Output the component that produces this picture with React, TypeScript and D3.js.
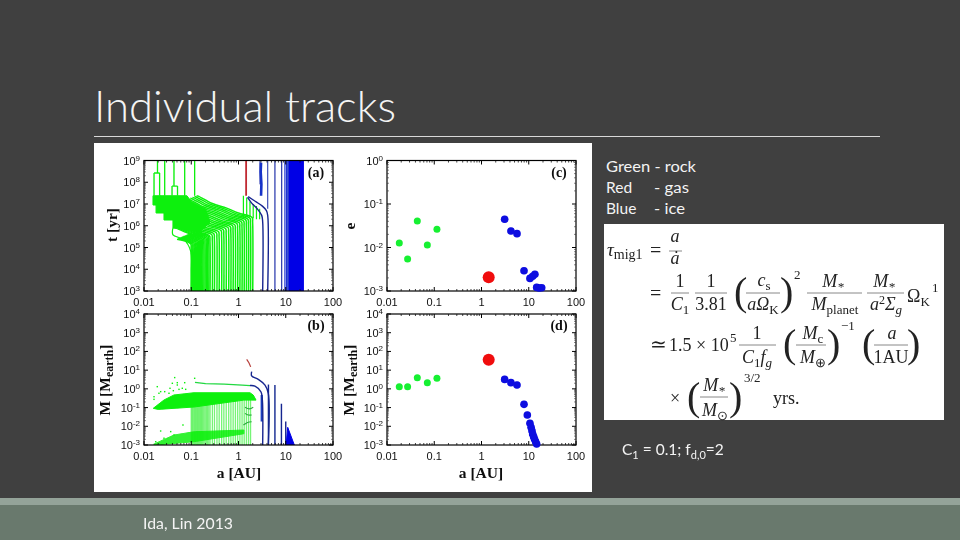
import React from "react";
import * as d3 from "d3";

// ---------- values ----------
const xTicks = [0.01, 0.1, 1, 10, 100];
const xTickLabels = ["0.01", "0.1", "1", "10", "100"];
const timeExponents = [3, 4, 5, 6, 7, 8, 9];
const massExponents = [-3, -2, -1, 0, 1, 2, 3, 4];
const eccExponents = [-3, -2, -1, 0];

const rockStart = [0.1, 0.105, 0.11, 0.116, 0.122, 0.128, 0.135, 0.142, 0.15, 0.158, 0.166, 0.175, 0.185, 0.196, 0.208, 0.22, 0.235, 0.25, 0.28, 0.31, 0.35, 0.39, 0.44, 0.49, 0.55, 0.62, 0.69, 0.77, 0.86, 0.96, 1.07, 1.19, 1.32, 1.47, 1.63, 1.8, 2.0];
const rockBend = [1.5e5, 1.57e5, 1.64e5, 1.72e5, 1.81e5, 1.89e5, 1.98e5, 2.08e5, 2.19e5, 2.3e5, 2.4e5, 2.52e5, 2.66e5, 2.8e5, 2.97e5, 3.12e5, 3.3e5, 3.5e5, 3.9e5, 4.3e5, 4.8e5, 5.3e5, 6e5, 6.6e5, 7.3e5, 8.2e5, 9e5, 1e6, 1.1e6, 1.23e6, 1.36e6, 1.5e6, 1.66e6, 1.83e6, 2e6, 2.2e6, 2.4e6];
const shapeTime = [0.002, 0.6, 1, 1.6, 2.7, 4.4, 9.6, 10];
const shapeSemi = [1, 0.995, 0.97, 0.5, 0.28, 0.14, 0.07, 0.065];

const rockBlock: [number, number][] = [[0.0155, 2.4e7], [0.081, 2.4e7], [0.1, 1.3e7], [0.2, 6e6], [0.25, 1.5e6], [0.15, 5e5], [0.041, 7.9e5], [0.041, 1.84e6], [0.0265, 1.84e6], [0.0265, 3.86e6], [0.018, 3.86e6], [0.018, 9e6], [0.0155, 9e6]];
const rockInner: [number, number][] = [[0.041, 7.9e5], [0.041, 3.8e5], [0.07, 2.3e5], [0.097, 6.9e4], [0.1, 8e3], [0.1, 1e3]];
const rockSurvivors: [number, number, number][] = [[0.0163, 2.4e7, 2.66e8], [0.0214, 2.4e7, 2.66e8], [0.0193, 2.66e8, 1e9], [0.0274, 2.4e7, 1e9], [0.0392, 2.4e7, 6.7e7], [0.0431, 6.7e7, 1e9], [0.0512, 2.4e7, 6.7e7], [0.0726, 2.4e7, 1e9], [0.118, 2.4e7, 1e9]];
const rockStubs: [number, number, number][] = [[1.27, 2.5e6, 2.4e7], [1.49, 2.5e6, 2e7], [1.75, 2.5e6, 1.3e7], [2.05, 2.2e6, 1e7], [2.4, 2e6, 8e6], [2.8, 2e6, 6e6]];
const gasTrack: [number, number][] = [[1.45, 2.4e7], [1.45, 1e9]];
const iceBendOne: [number, number][] = [[3.25, 1e3], [3.25, 1.5e6], [3.1, 3e6], [2.5, 6e6], [1.9, 1.1e7], [1.55, 2e7]];
const iceBendTwo: [number, number][] = [[4.15, 1e3], [4.15, 3e6], [3.9, 5e6], [3.2, 8e6], [2.3, 1.3e7], [1.6, 2.2e7]];
const iceThick: [number, number][] = [[3.0, 2.4e7], [3.05, 8e7], [2.95, 3e8], [3.0, 8e8]];
const iceUpper: [number, number][] = [[4.15, 1e9], [4.15, 6e6]];
const iceFaint: [number, number][] = [[2.85, 1e9], [2.85, 8e7]];
const iceLines = [5.9, 8.2, 9.6, 10.4, 11.2];
const iceBand = [12.3, 13, 13.8, 14.6, 15.4, 16.2, 17, 18, 19, 20, 21, 22, 23];

const rockFan = [0.1, 0.105, 0.11, 0.116, 0.122, 0.128, 0.135, 0.142, 0.15, 0.158, 0.166, 0.175, 0.185, 0.196, 0.208, 0.22, 0.235, 0.25, 0.28, 0.31, 0.35, 0.39, 0.44, 0.49, 0.55, 0.62, 0.69, 0.77, 0.86, 0.96, 1.07, 1.19, 1.32, 1.47, 1.63, 1.8];
const massUpperBand: [number, number][] = [[0.0157, 0.091], [0.0265, 0.254], [0.043, 0.47], [0.114, 0.62], [1.75, 0.62], [2.05, 0.47], [2.35, 0.25], [1.3, 0.25], [0.114, 0.107], [0.02, 0.08]];
const massLowerBand: [number, number][] = [[0.016, 1.1e-3], [0.043, 3.4e-3], [0.114, 5.1e-3], [1.3, 6.3e-3], [1.3, 4e-3], [0.114, 1.5e-3], [0.018, 1e-3]];
const massDotA = [0.0191, 0.0225, 0.0163, 0.0207, 0.0274, 0.0355, 0.0398, 0.0446, 0.0507, 0.055, 0.0726, 0.118, 0.0163, 0.0338, 0.0418, 0.0647, 0.0762, 0.0507, 0.0668, 0.0367, 0.0225, 0.0177, 0.0265, 0.0431];
const massDotM = [1.31, 0.71, 0.38, 0.58, 0.71, 1.07, 1.98, 4, 2.14, 0.94, 2.14, 3.66, 0.275, 0.58, 0.8, 1.07, 0.94, 1.61, 0.0117, 5.2e-3, 5.6e-3, 1.5e-3, 2.3e-3, 3.4e-3];
const massRockLong: [number, number][] = [[0.12, 2.2], [0.2, 1.9], [0.5, 1.8], [1.2, 1.6], [1.75, 1.5]];
const massIceOne: [number, number][] = [[1.75, 1.5], [2.23, 1.4], [3, 0.68], [3.2, 0.25], [3.25, 1e-3]];
const massIceTwo: [number, number][] = [[1.9, 8.3], [1.9, 4.9], [2.62, 3.2], [3.64, 1.6], [4.27, 0.58], [4.27, 1e-3]];
const massIceVerticals: [number, number][] = [[4.3, 1.7], [5.9, 1.6], [8.1, 0.16], [10, 0.018]];
const massIceThick: [number, number][] = [[3.1, 0.47], [3.1, 0.018]];
const massGas: [number, number][] = [[1.49, 38], [1.66, 25], [1.81, 15]];
const massIceWedge: [number, number][] = [[11, 8.8e-3], [15.2, 1e-3], [10.2, 1e-3]];
const massArcs: [number, number][][] = [[[1.37, 0.104], [1.7, 0.085], [2.05, 0.104]], [[1.37, 0.049], [1.6, 0.04], [1.9, 0.04]], [[1.27, 0.0117], [1.55, 0.016], [1.9, 0.0176]]];

const rockA = [0.0182, 0.0273, 0.0438, 0.0714, 0.114];
const rockE = [0.0127, 0.00545, 0.0407, 0.0114, 0.0262];
const rockM = [1.31, 1.31, 3.96, 2.14, 3.66];
const gasA = [1.42];
const gasE = [0.00206];
const gasM = [36];
const iceEA = [3.09, 4.2, 5.64, 7.94, 10.6, 12.1, 13.5, 14.7, 16.5, 18.8];
const iceE = [0.0445, 0.0239, 0.0208, 0.00293, 0.00195, 0.00217, 0.00242, 0.00121, 0.00117, 0.00119];
const iceMA = [3.09, 4.2, 5.64, 7.94, 9.33, 10.6, 11.2, 11.7, 12.1, 12.7, 13.3, 14, 14.7];
const iceM = [3.2, 2.14, 1.6, 0.149, 0.04, 0.0144, 0.0088, 0.0058, 0.00387, 0.00279, 0.002, 0.0015, 0.00113];

// ---------- styling ----------
const GREEN = "#0af00a";
const NAVY = "#15258f";
const BLUE = "#0000e6";
const SANS = "Liberation Sans";
const SERIF = "Liberation Serif";
const SLIDE = "Lato";

const xLeft = d3.scaleLog().domain([0.01, 100]).range([144, 333]);
const xRight = d3.scaleLog().domain([0.01, 100]).range([387, 576]);
const yTime = d3.scaleLog().domain([1e3, 1e9]).range([291, 160.5]);
const yEcc = d3.scaleLog().domain([1e-3, 1]).range([291, 160.5]);
const yMass = d3.scaleLog().domain([1e-3, 1e4]).range([445, 314]);

type Sc = d3.ScaleLogarithmic<number, number>;

function Frame({ x, y, exps, panel }: { x: Sc; y: Sc; exps: number[]; panel: string }) {
  const [x0, x1] = x.range();
  const [y0, y1] = y.range();
  const minors = [2, 3, 4, 5, 6, 7, 8, 9];
  const xm: number[] = [];
  xTicks.slice(0, -1).forEach((t) => minors.forEach((m) => xm.push(t * m)));
  const ym: number[] = [];
  exps.slice(0, -1).forEach((e) => minors.forEach((m) => ym.push(m * 10 ** e)));
  return (
    <g>
      <rect x={x0} y={y1} width={x1 - x0} height={y0 - y1} fill="none" stroke="#000" strokeWidth={1.2} />
      {xTicks.map((t, i) => (
        <g key={t}>
          <line x1={x(t)} x2={x(t)} y1={y0} y2={y0 - 4} stroke="#000" />
          <line x1={x(t)} x2={x(t)} y1={y1} y2={y1 + 4} stroke="#000" />
          <text x={x(t)} y={y0 + 15} textAnchor="middle" fontFamily={SANS} fontSize={11} fill="#111">{xTickLabels[i]}</text>
        </g>
      ))}
      {xm.map((t) => (
        <g key={t}>
          <line x1={x(t)} x2={x(t)} y1={y0} y2={y0 - 2} stroke="#111" strokeWidth={0.8} />
          <line x1={x(t)} x2={x(t)} y1={y1} y2={y1 + 2} stroke="#111" strokeWidth={0.8} />
        </g>
      ))}
      {exps.map((e) => (
        <g key={e}>
          <line x1={x0} x2={x0 + 4} y1={y(10 ** e)} y2={y(10 ** e)} stroke="#000" />
          <line x1={x1} x2={x1 - 4} y1={y(10 ** e)} y2={y(10 ** e)} stroke="#000" />
          <text x={x0 - 4} y={y(10 ** e) + 4} textAnchor="end" fontFamily={SANS} fontSize={11} fill="#111">
            10<tspan dy={-4} fontSize={8}>{e}</tspan>
          </text>
        </g>
      ))}
      {ym.map((t) => (
        <g key={t}>
          <line x1={x0} x2={x0 + 2} y1={y(t)} y2={y(t)} stroke="#333" strokeWidth={0.6} />
          <line x1={x1} x2={x1 - 2} y1={y(t)} y2={y(t)} stroke="#333" strokeWidth={0.6} />
        </g>
      ))}
      <text x={x1 - 17} y={y1 + 16} textAnchor="middle" fontFamily={SERIF} fontWeight="bold" fontSize={14} fill="#111">{panel}</text>
    </g>
  );
}

function Poly({ pts, x, y, color, w = 1, dash, close, fill, op }: { pts: [number, number][]; x: Sc; y: Sc; color: string; w?: number; dash?: string; close?: boolean; fill?: string; op?: number }) {
  const gen = d3.line<[number, number]>().x((d) => x(d[0])).y((d) => y(d[1]));
  return <path d={gen(pts)! + (close ? "Z" : "")} fill={fill ?? "none"} stroke={color} strokeWidth={w} strokeDasharray={dash} opacity={op} />;
}

function Smooth({ pts, x, y, color, w = 1 }: { pts: [number, number][]; x: Sc; y: Sc; color: string; w?: number }) {
  const gen = d3.line<[number, number]>().x((d) => x(d[0])).y((d) => y(d[1])).curve(d3.curveCatmullRom.alpha(0.5));
  return <path d={gen(pts)!} fill="none" stroke={color} strokeWidth={w} />;
}

function Dots({ xs, ys, x, y, r, color }: { xs: number[]; ys: number[]; x: Sc; y: Sc; r: number; color: string }) {
  return <g>{xs.map((a, i) => <circle key={i} cx={x(a)} cy={y(ys[i])} r={r} fill={color} />)}</g>;
}

function PanelA() {
  const x = xLeft, y = yTime;
  return (
    <g>
      <g clipPath="url(#clipA)">
        {rockStart.map((a0, i) => {
          const pts = shapeTime
            .map((r, k) => [a0 * shapeSemi[k], rockBend[i] * r] as [number, number])
            .filter((p) => p[0] >= 0.05 && p[1] <= 2.4e7);
          pts[0][1] = 1e3;
          return <Smooth key={i} pts={pts} x={x} y={y} color={GREEN} w={1.5} />;
        })}
        <Smooth pts={rockInner} x={x} y={y} color={GREEN} w={1.2} />
        <Poly pts={rockBlock} x={x} y={y} color={GREEN} close fill={GREEN} />
        {rockSurvivors.map((s, i) => <Poly key={i} pts={[[s[0], s[1]], [s[0], s[2]]]} x={x} y={y} color={GREEN} w={1.3} />)}
        <Poly pts={[[0.0163, 2.66e8], [0.0214, 2.66e8]]} x={x} y={y} color={GREEN} w={1.3} />
        <Poly pts={[[0.0392, 6.7e7], [0.0512, 6.7e7]]} x={x} y={y} color={GREEN} w={1.3} />
        {rockStubs.map((s, i) => <Poly key={i} pts={[[s[0], s[1]], [s[0], s[2]]]} x={x} y={y} color={GREEN} w={1.2} />)}
        {iceBand.map((a) => <Poly key={a} pts={[[a, 1e3], [a, 1e9]]} x={x} y={y} color={BLUE} w={2.2} />)}
        {iceLines.map((a) => <Poly key={a} pts={[[a, 1e3], [a, 1e9]]} x={x} y={y} color={a > 9 ? "#1a30d0" : "#2233aa"} w={a > 11 ? 1.8 : 1.2} />)}
        <Poly pts={iceFaint} x={x} y={y} color="#2233aa" w={1} />
        <Poly pts={iceUpper} x={x} y={y} color="#2b3db0" w={1.1} />
        <Smooth pts={iceBendOne} x={x} y={y} color={NAVY} w={1.4} />
        <Smooth pts={iceBendTwo} x={x} y={y} color={NAVY} w={1.4} />
        <Poly pts={iceThick} x={x} y={y} color="#1530c8" w={2.6} />
        <Poly pts={gasTrack} x={x} y={y} color="#c02a30" w={1.8} />
      </g>
      <Frame x={x} y={y} exps={timeExponents} panel="(a)" />
    </g>
  );
}

function PanelB() {
  const x = xLeft, y = yMass;
  return (
    <g>
      <g clipPath="url(#clipB)">
        {rockFan.map((a) => <Poly key={a} pts={[[a, 1e-3], [a, 0.5]]} x={x} y={y} color="#3cf03c" w={1.3} op={0.7} />)}
        <Poly pts={massLowerBand} x={x} y={y} color={GREEN} close fill={GREEN} op={0.85} />
        <Poly pts={massUpperBand} x={x} y={y} color={GREEN} close fill={GREEN} />
        {massDotA.map((a, i) => <rect key={i} x={x(a) - 0.7} y={y(massDotM[i]) - 0.7} width={1.4} height={1.4} fill={GREEN} />)}
        <Poly pts={massRockLong} x={x} y={y} color="#20d840" w={1.3} />
        {massArcs.map((p, i) => <Smooth key={i} pts={p} x={x} y={y} color="#2eaa40" w={1.1} />)}
        <Poly pts={massIceThick} x={x} y={y} color="#1a40c0" w={2.2} />
        <Smooth pts={massIceOne} x={x} y={y} color={NAVY} w={1.4} />
        <Smooth pts={massIceTwo} x={x} y={y} color={NAVY} w={1.4} />
        {massIceVerticals.map((v, i) => <Poly key={i} pts={[[v[0], 1e-3], [v[0], v[1]]]} x={x} y={y} color={NAVY} w={1.4} />)}
        <Poly pts={massIceWedge} x={x} y={y} color={BLUE} close fill={BLUE} />
        <Smooth pts={massGas} x={x} y={y} color="#b8403c" w={1.2} />
      </g>
      <Frame x={x} y={y} exps={massExponents} panel="(b)" />
    </g>
  );
}

function PanelC() {
  const x = xRight, y = yEcc;
  return (
    <g>
      <Frame x={x} y={y} exps={eccExponents} panel="(c)" />
      <Dots xs={rockA} ys={rockE} x={x} y={y} r={3.5} color="#18f030" />
      <Dots xs={iceEA} ys={iceE} x={x} y={y} r={3.8} color="#0808e0" />
      <Dots xs={gasA} ys={gasE} x={x} y={y} r={6} color="#f00a10" />
    </g>
  );
}

function PanelD() {
  const x = xRight, y = yMass;
  return (
    <g>
      <Frame x={x} y={y} exps={massExponents} panel="(d)" />
      <Dots xs={rockA} ys={rockM} x={x} y={y} r={3.5} color="#18f030" />
      <Dots xs={iceMA} ys={iceM} x={x} y={y} r={3.8} color="#0808e0" />
      <Dots xs={gasA} ys={gasM} x={x} y={y} r={6} color="#f00a10" />
    </g>
  );
}

function AxisText() {
  const common = { fontFamily: SERIF, fontWeight: "bold" as const, fontSize: 15.5, fill: "#111", textAnchor: "middle" as const };
  return (
    <g>
      <text {...common} transform="translate(117,225) rotate(-90)">t [yr]</text>
      <text {...common} transform="translate(110,380) rotate(-90)">M [M<tspan dy={3} fontSize={12}>earth</tspan><tspan dy={-3}>]</tspan></text>
      <text {...common} x={239} y={478}>a [AU]</text>
      <text {...common} transform="translate(355,226) rotate(-90)">e</text>
      <text {...common} transform="translate(354,380) rotate(-90)">M [M<tspan dy={3} fontSize={12}>earth</tspan><tspan dy={-3}>]</tspan></text>
      <text {...common} x={481} y={478}>a [AU]</text>
    </g>
  );
}

function Eq({ x, y, children, size = 18, anchor = "start", italic }: { x: number; y: number; children: React.ReactNode; size?: number; anchor?: string; italic?: boolean }) {
  return <text x={x} y={y} fontFamily={SERIF} fontSize={size} fontStyle={italic ? "italic" : "normal"} textAnchor={anchor as any} fill="#222">{children}</text>;
}

function Bar({ x1, x2, y }: { x1: number; x2: number; y: number }) {
  return <line x1={x1} x2={x2} y1={y} y2={y} stroke="#888" strokeWidth={1} />;
}

function Equation() {
  const sub = { dy: 4, fontSize: 13 };
  return (
    <g>
      <Eq x={607} y={256} size={19} italic>τ<tspan dy={3} fontSize={14} fontStyle="normal">mig1</tspan></Eq>
      <Eq x={650} y={257} size={20}>=</Eq>
      <Eq x={675} y={242} anchor="middle" italic>a</Eq>
      <Bar x1={669} x2={682} y={251} />
      <Eq x={675} y={264} anchor="middle" italic>ȧ</Eq>

      <Eq x={650} y={300} size={20}>=</Eq>
      <Eq x={680} y={287} anchor="middle">1</Eq>
      <Bar x1={671} x2={689} y={293} />
      <Eq x={680} y={310} anchor="middle" italic>C<tspan {...sub} fontStyle="normal">1</tspan></Eq>
      <Eq x={711} y={287} anchor="middle">1</Eq>
      <Bar x1={695} x2={727} y={293} />
      <Eq x={711} y={310} anchor="middle">3.81</Eq>
      <Eq x={734} y={305} size={40}>(</Eq>
      <Eq x={764} y={286} anchor="middle" italic>c<tspan {...sub} fontStyle="normal">s</tspan></Eq>
      <Bar x1={746} x2={780} y={293} />
      <Eq x={763} y={310} anchor="middle" italic>aΩ<tspan {...sub} fontStyle="normal">K</tspan></Eq>
      <Eq x={780} y={305} size={40}>)</Eq>
      <Eq x={794} y={279} size={13}>2</Eq>
      <Eq x={833} y={287} anchor="middle" italic>M<tspan {...sub}>*</tspan></Eq>
      <Bar x1={807} x2={862} y={293} />
      <Eq x={835} y={310} anchor="middle" italic>M<tspan {...sub} fontStyle="normal">planet</tspan></Eq>
      <Eq x={884} y={287} anchor="middle" italic>M<tspan {...sub}>*</tspan></Eq>
      <Bar x1={867} x2={904} y={293} />
      <Eq x={886} y={310} anchor="middle" italic>a<tspan dy={-6} fontSize={12} fontStyle="normal">2</tspan><tspan dy={6}>Σ</tspan><tspan {...sub}>g</tspan></Eq>
      <Eq x={907} y={302}>Ω<tspan {...sub}>K</tspan></Eq>
      <Eq x={932} y={292} size={13}>1</Eq>

      <Eq x={650} y={351} size={20}>≃</Eq>
      <Eq x={669} y={351}>1.5 × 10</Eq>
      <Eq x={730} y={342} size={13}>5</Eq>
      <Eq x={757} y={339} anchor="middle">1</Eq>
      <Bar x1={739} x2={776} y={345} />
      <Eq x={757} y={363} anchor="middle" italic>C<tspan {...sub} fontStyle="normal">1</tspan><tspan dy={-4}>f</tspan><tspan {...sub}>g</tspan></Eq>
      <Eq x={783} y={357} size={40}>(</Eq>
      <Eq x={813} y={339} anchor="middle" italic>M<tspan {...sub} fontStyle="normal">c</tspan></Eq>
      <Bar x1={796} x2={826} y={345} />
      <Eq x={813} y={363} anchor="middle" italic>M<tspan {...sub} fontStyle="normal">⊕</tspan></Eq>
      <Eq x={827} y={357} size={40}>)</Eq>
      <Eq x={841} y={330} size={13}>−1</Eq>
      <Eq x={862} y={357} size={40}>(</Eq>
      <Eq x={892} y={339} anchor="middle" italic>a</Eq>
      <Bar x1={874} x2={908} y={345} />
      <Eq x={891} y={363} anchor="middle">1AU</Eq>
      <Eq x={907} y={357} size={40}>)</Eq>

      <Eq x={670} y={404}>×</Eq>
      <Eq x={687} y={410} size={40}>(</Eq>
      <Eq x={714} y={391} anchor="middle" italic>M<tspan {...sub}>*</tspan></Eq>
      <Bar x1={700} x2={728} y={397} />
      <Eq x={715} y={416} anchor="middle" italic>M<tspan {...sub} fontStyle="normal">⊙</tspan></Eq>
      <Eq x={729} y={410} size={40}>)</Eq>
      <Eq x={744} y={382} size={13}>3/2</Eq>
      <Eq x={773} y={404}>yrs.</Eq>
    </g>
  );
}

export default function App() {
  return (
    <svg width={960} height={540} viewBox="0 0 960 540" style={{ position: "fixed", left: 0, top: 0, display: "block" }}>
      <defs>
        <clipPath id="clipA"><rect x={144} y={160.5} width={189} height={130.5} /></clipPath>
        <clipPath id="clipB"><rect x={144} y={314} width={189} height={131} /></clipPath>
        <filter id="soft" x="0" y="0" width="100%" height="100%"><feGaussianBlur stdDeviation={0.25} /></filter>
      </defs>
      <rect width={960} height={540} fill="#404040" />
      <rect y={498} width={960} height={7} fill="#94a399" />
      <rect y={505} width={960} height={35} fill="#69796d" />
      <text x={94} y={122} fontFamily={SLIDE} fontWeight={300} fontSize={43} fill="#f4f4f4" textLength={302} lengthAdjust="spacingAndGlyphs">Individual tracks</text>
      <line x1={94} x2={880} y1={136.5} y2={136.5} stroke="#d8d8d8" strokeWidth={1} />

      <rect x={94} y={143} width={498} height={349} fill="#fff" />
      <g filter="url(#soft)">
        <PanelA />
        <PanelB />
        <PanelC />
        <PanelD />
        <AxisText />
      </g>

      <g fontFamily={SLIDE} fontSize={15.5} fill="#f4f4f4">
        <text x={606} y={171.5} textLength={90} lengthAdjust="spacingAndGlyphs">Green - rock</text>
        <text x={606} y={192.5}>Red</text>
        <text x={654} y={192.5} textLength={35} lengthAdjust="spacingAndGlyphs">- gas</text>
        <text x={606} y={214}>Blue</text>
        <text x={654} y={214} textLength={31} lengthAdjust="spacingAndGlyphs">- ice</text>
      </g>
      <rect x={604} y={224} width={340} height={196} fill="#fff" />
      <g filter="url(#soft)"><Equation /></g>
      <text x={622} y={455} fontFamily={SLIDE} fontSize={15.5} fill="#f4f4f4">C<tspan dy={4} fontSize={11}>1</tspan><tspan dy={-4}> = 0.1; f</tspan><tspan dy={4} fontSize={11}>d,0</tspan><tspan dy={-4}>=2</tspan></text>
      <text x={143} y={529} fontFamily={SLIDE} fontSize={15.5} fill="#f4f4f4" textLength={90} lengthAdjust="spacingAndGlyphs">Ida, Lin 2013</text>
    </svg>
  );
}
